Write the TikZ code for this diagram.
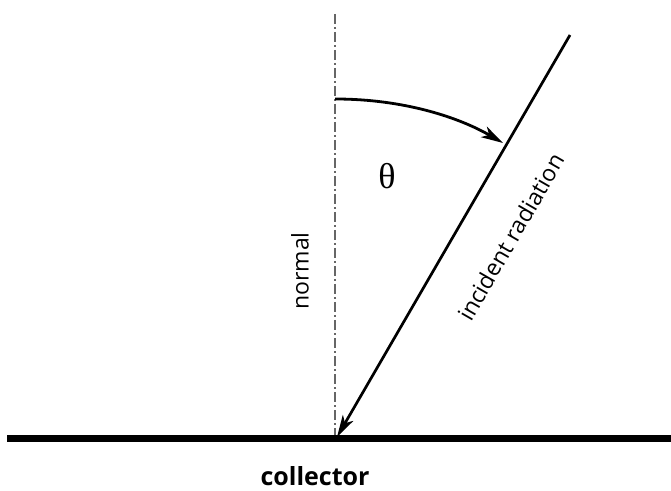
\documentclass[tikz,border=0pt]{standalone}
\usepackage{fontspec}
\setmainfont{Open Sans}
\newfontfamily\thetafont{Liberation Serif}
\usetikzlibrary{arrows.meta}
\begin{document}
\begin{tikzpicture}[x=1pt,y=1pt,
  normalline/.style={draw=black!60, line width=1.5pt, dash pattern=on 10pt off 3pt on 2pt off 3pt},
  rayline/.style={draw=black, line width=2.7pt, -{Stealth[length=22pt,width=12pt,inset=6pt]}},
  collectorline/.style={draw=black, line width=7pt},
  lbl/.style={inner sep=0pt, font=\fontsize{23}{27}\selectfont}]
\useasboundingbox (0,0) rectangle (671,490);
\coordinate (ntop) at (335,476);
\coordinate (hit) at (335,52);
\coordinate (cl) at (7,52);
\coordinate (cr) at (671,52);
\coordinate (src) at (570,455);
\coordinate (rayend) at (337,53);
\coordinate (arcstart) at (335,391);
\coordinate (arcend) at (503,347);
\draw[normalline] (ntop) -- (hit);
\draw[collectorline] (cl) -- (cr);
\draw[rayline] (src) -- (rayend);
\draw[rayline, line width=2.8pt] (arcstart) .. controls (405,391) and (460,372) .. (arcend);
\node[lbl] (theta) at (387,314) {\fontsize{36}{40}\selectfont\thetafont θ};
\node[lbl, rotate=90] (normal) at (300,219) {normal};
\node[lbl, rotate=60] (inc) at (511,253) {incident radiation};
\node[lbl, font=\fontsize{25}{30}\selectfont\bfseries] (coll) at (315,14) {collector};
\end{tikzpicture}
\end{document}
